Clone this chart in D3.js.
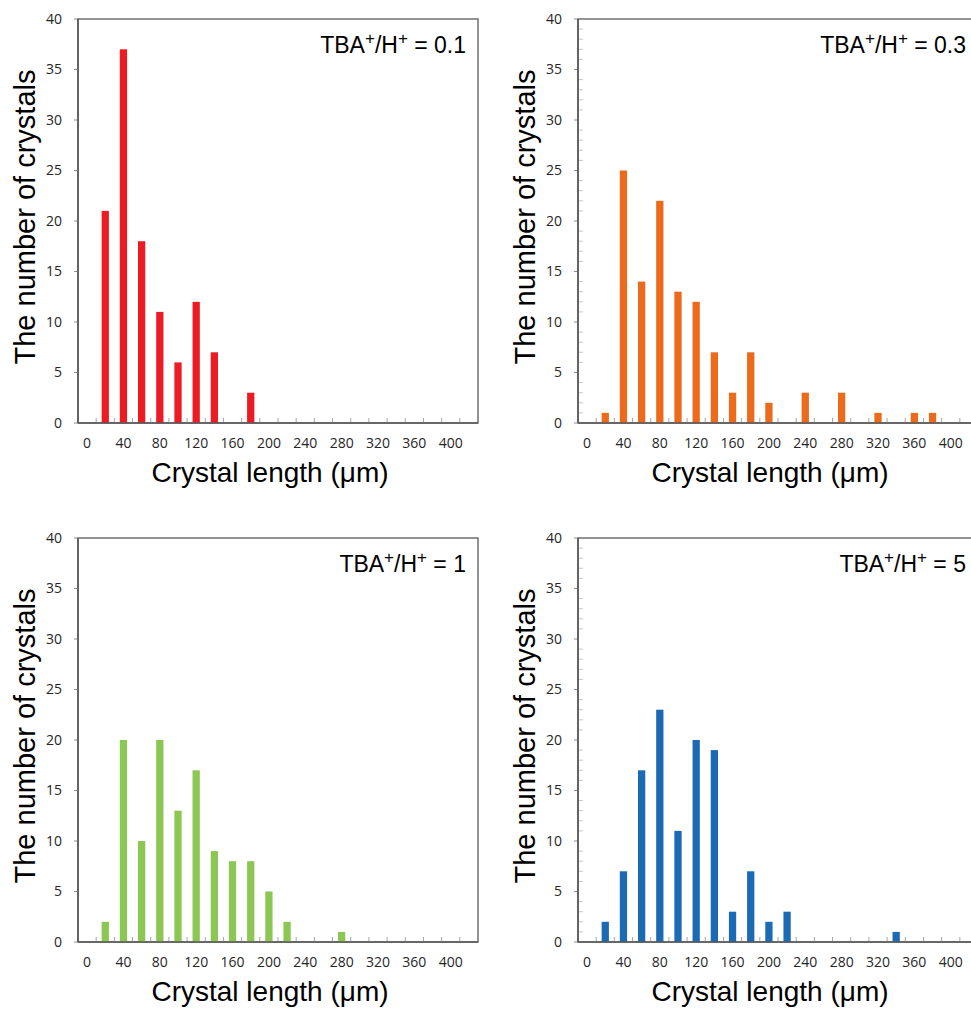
<!DOCTYPE html>
<html lang="en">
<head>
    <meta charset="UTF-8">
    <title>Crystal length distributions</title>
    <style>
        body {
            margin: 0;
            background: #fff;
        }
        .tick-label {
            font-family: "Open Sans", sans-serif;
            font-size: 14px;
            fill: #262626;
        }
        .axis-title {
            font-family: "Liberation Sans", Arial, sans-serif;
            fill: #000;
        }
    </style>
</head>
<body>
    <svg id="chart" width="971" height="1011"></svg>
    <script src="https://d3js.org/d3.v7.min.js"></script>
    <script>
        // category labels (crystal length bins, um)
        const categories = [0, 20, 40, 60, 80, 100, 120, 140, 160, 180, 200,
                            220, 240, 260, 280, 300, 320, 340, 360, 380, 400, 420];
        const xTickLabels = [0, 40, 80, 120, 160, 200, 240, 280, 320, 360, 400];
        const yTicks = [0, 5, 10, 15, 20, 25, 30, 35, 40];

        // counts per bin, one array per TBA+/H+ ratio
        const ratio01 = [0, 21, 37, 18, 11, 6, 12, 7, 0, 3, 0, 0, 0, 0, 0, 0, 0, 0, 0, 0, 0, 0];
        const ratio03 = [0, 1, 25, 14, 22, 13, 12, 7, 3, 7, 2, 0, 3, 0, 3, 0, 1, 0, 1, 1, 0, 0];
        const ratio1  = [0, 2, 20, 10, 20, 13, 17, 9, 8, 8, 5, 2, 0, 0, 1, 0, 0, 0, 0, 0, 0, 0];
        const ratio5  = [0, 2, 7, 17, 23, 11, 20, 19, 3, 7, 2, 3, 0, 0, 0, 0, 0, 1, 0, 0, 0, 0];

        const ratioLabels = ['0.1', '0.3', '1', '5'];

        const panels = [
            { values: ratio01, label: ratioLabels[0], color: '#ec1c24', left: 78,  top: 19,  minor: false },
            { values: ratio03, label: ratioLabels[1], color: '#ec6a1c', left: 578, top: 19,  minor: true },
            { values: ratio1,  label: ratioLabels[2], color: '#8cc653', left: 78,  top: 538, minor: false },
            { values: ratio5,  label: ratioLabels[3], color: '#1c6ab4', left: 578, top: 538, minor: true }
        ];

        const width = 400, height = 404;
        const svg = d3.select('#chart');

        const x = d3.scaleBand().domain(categories).range([0, width]).padding(0);
        const y = d3.scaleLinear().domain([0, 40]).range([height, 0]);
        const barW = x.bandwidth() * 0.4;

        panels.forEach(p => {
            const g = svg.append('g').attr('transform', `translate(${p.left},${p.top})`);

            // plot frame
            g.append('rect')
                .attr('width', width).attr('height', height)
                .attr('fill', 'none')
                .attr('stroke', '#595959')
                .attr('stroke-width', 1.3);

            // bars
            g.selectAll('.bar')
                .data(categories.map((c, i) => ({ c, v: p.values[i] })).filter(d => d.v > 0))
                .enter()
                .append('rect')
                .attr('x', d => x(d.c) + (x.bandwidth() - barW) / 2)
                .attr('y', d => y(d.v))
                .attr('width', barW)
                .attr('height', d => y(0) - y(d.v))
                .attr('fill', p.color);

            // x category ticks (inside, between bins)
            g.selectAll('.xtick')
                .data(categories.slice(1))
                .enter()
                .append('line')
                .attr('x1', d => x(d)).attr('x2', d => x(d))
                .attr('y1', height).attr('y2', height - 5)
                .attr('stroke', '#a6a6a6');

            // y minor ticks
            if (p.minor) {
                g.selectAll('.minor')
                    .data(d3.range(1, 40).filter(v => v % 5 !== 0))
                    .enter()
                    .append('line')
                    .attr('x1', 1).attr('x2', 5)
                    .attr('y1', d => y(d)).attr('y2', d => y(d))
                    .attr('stroke', '#c8c8c8');
            }

            // y major ticks
            g.selectAll('.ytick')
                .data(yTicks)
                .enter()
                .append('line')
                .attr('x1', -4).attr('x2', 0)
                .attr('y1', d => y(d)).attr('y2', d => y(d))
                .attr('stroke', '#8c8c8c');

            // axis lines
            g.append('line')
                .attr('x1', 0).attr('x2', width)
                .attr('y1', height).attr('y2', height)
                .attr('stroke', '#595959').attr('stroke-width', 1.6);
            g.append('line')
                .attr('x1', 0).attr('x2', 0)
                .attr('y1', 0).attr('y2', height)
                .attr('stroke', '#595959').attr('stroke-width', 1.6);

            // y tick labels
            g.selectAll('.ylab')
                .data(yTicks)
                .enter()
                .append('text')
                .attr('class', 'tick-label')
                .attr('x', -16)
                .attr('y', d => y(d))
                .attr('dy', '0.35em')
                .attr('text-anchor', 'end')
                .text(d => d);

            // x tick labels
            g.selectAll('.xlab')
                .data(xTickLabels)
                .enter()
                .append('text')
                .attr('class', 'tick-label')
                .attr('x', d => x(d) + x.bandwidth() / 2)
                .attr('y', height + 25)
                .attr('text-anchor', 'middle')
                .text(d => d);

            // axis titles
            g.append('text')
                .attr('class', 'axis-title')
                .attr('font-size', 28)
                .attr('x', 192)
                .attr('y', height + 59)
                .attr('text-anchor', 'middle')
                .text('Crystal length (\u03bcm)');

            g.append('text')
                .attr('class', 'axis-title')
                .attr('font-size', 29)
                .attr('transform', `translate(-43,${height / 2 - 4}) rotate(-90)`)
                .attr('text-anchor', 'middle')
                .text('The number of crystals');

            // ratio annotation
            const ann = g.append('text')
                .attr('class', 'axis-title')
                .attr('font-size', 23)
                .attr('x', width - 12)
                .attr('y', 34)
                .attr('text-anchor', 'end');
            ann.append('tspan').text('TBA');
            ann.append('tspan').attr('font-size', 17).attr('dy', -9).text('+');
            ann.append('tspan').attr('dy', 9).text('/H');
            ann.append('tspan').attr('font-size', 17).attr('dy', -9).text('+');
            ann.append('tspan').attr('dy', 9).text(' = ' + p.label);
        });
    </script>
</body>
</html>
